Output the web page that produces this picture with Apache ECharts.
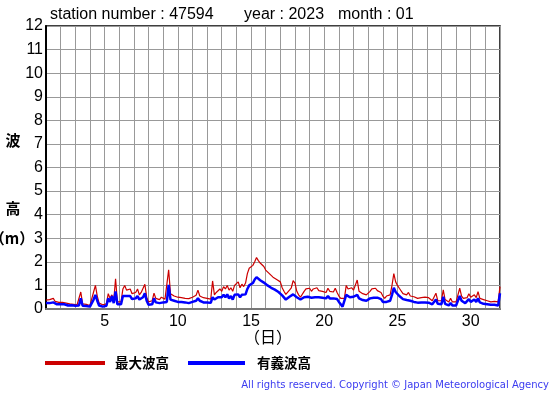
<!DOCTYPE html>
<html>
<head>
<meta charset="utf-8">
<script src="https://cdn.jsdelivr.net/npm/echarts@6/dist/echarts.min.js"></script>
<style>
html,body{margin:0;padding:0;background:#fff;}
#c{width:555px;height:395px;}
</style>
</head>
<body>
<div id="c"></div>
<script>
// Header texts
const stationText = 'station number : 47594';
const yearText = 'year : 2023';
const monthText = 'month : 01';
const seriesNames = ['最大波高', '有義波高'];
const yTicks = [0,1,2,3,4,5,6,7,8,9,10,11,12];
const xTickLabels = [5, 10, 15, 20, 25, 30];
const stepsPerDay = 8; // 3-hourly samples, starting at day 1 00h, ending at day 32 00h

// 最大波高 (max wave height, m), 8 values per day
const maxWave = [
  0.38,0.35,0.40,0.33,0.45,0.32,0.30,0.28, // 1
  0.30,0.28,0.30,0.25,0.24,0.22,0.26,0.20, // 2
  0.22,0.18,0.25,0.72,0.22,0.15,0.20,0.24, // 3
  0.15,0.12,0.72,1.00,0.55,0.25,0.20,0.18, // 4
  0.20,0.22,0.65,0.45,0.60,0.35,1.28,0.30, // 5
  0.25,0.30,0.85,1.00,0.80,0.75,0.85,0.65, // 6
  0.65,0.70,0.85,0.60,0.70,0.75,1.05,0.50, // 7
  0.30,0.22,0.35,0.67,0.45,0.48,0.40,0.50, // 8
  0.45,0.42,0.50,1.66,0.65,0.60,0.55,0.60, // 9
  0.50,0.45,0.48,0.42,0.45,0.52,0.44,0.47, // 10
  0.50,0.55,0.58,0.80,0.55,0.52,0.48,0.45, // 11
  0.45,0.48,0.42,1.19,0.60,0.70,0.75,0.85, // 12
  0.75,0.95,0.85,1.00,0.80,0.90,0.75,1.00, // 13
  0.95,1.15,0.90,1.05,0.95,1.10,1.50,1.73, // 14
  1.70,1.85,2.00,2.18,2.05,1.95,1.90,1.80, // 15
  1.65,1.60,1.50,1.45,1.35,1.30,1.25,1.20, // 16
  1.15,0.90,0.75,0.62,0.70,0.80,0.90,1.20, // 17
  1.10,0.75,0.60,0.50,0.55,0.75,0.85,0.80, // 18
  0.88,0.75,0.85,0.80,0.90,0.78,0.85,0.75, // 19
  0.80,0.70,0.88,0.75,0.68,0.72,0.88,0.70, // 20
  0.55,0.45,0.40,0.45,1.00,0.85,0.80,0.90, // 21
  0.80,0.85,1.23,0.75,0.70,0.65,0.70,0.60, // 22
  0.65,0.75,0.85,0.80,0.88,0.78,0.85,0.70, // 23
  0.55,0.45,0.55,0.50,0.60,1.00,1.50,1.15, // 24
  1.00,0.88,0.80,0.65,0.62,0.60,0.70,0.55, // 25
  0.50,0.52,0.48,0.45,0.50,0.48,0.45,0.50, // 26
  0.45,0.48,0.40,0.35,0.38,0.67,0.35,0.30, // 27
  0.35,0.81,0.40,0.35,0.30,0.45,0.30,0.28, // 28
  0.30,0.35,0.88,0.55,0.45,0.40,0.48,0.65, // 29
  0.50,0.55,0.60,0.48,0.73,0.45,0.50,0.40, // 30
  0.45,0.35,0.38,0.30,0.28,0.32,0.25,0.30, // 31
  0.95                                      // 32 00h
];

// 有義波高 (significant wave height, m), 8 values per day
const sigWave = [
  0.25,0.22,0.25,0.20,0.28,0.20,0.20,0.18, // 1
  0.20,0.18,0.20,0.16,0.15,0.14,0.16,0.12, // 2
  0.14,0.12,0.15,0.45,0.14,0.10,0.13,0.15, // 3
  0.10,0.08,0.40,0.60,0.35,0.15,0.12,0.10, // 4
  0.12,0.14,0.45,0.30,0.55,0.25,0.74,0.20, // 5
  0.15,0.20,0.55,0.62,0.55,0.50,0.55,0.42, // 6
  0.42,0.45,0.55,0.40,0.45,0.50,0.67,0.35, // 7
  0.18,0.12,0.20,0.45,0.28,0.30,0.25,0.30, // 8
  0.28,0.25,0.30,1.02,0.40,0.38,0.35,0.38, // 9
  0.30,0.28,0.30,0.25,0.28,0.30,0.25,0.28, // 10
  0.30,0.35,0.35,0.45,0.35,0.30,0.28,0.28, // 11
  0.28,0.30,0.26,0.50,0.40,0.45,0.50,0.55, // 12
  0.50,0.60,0.50,0.62,0.45,0.55,0.40,0.60, // 13
  0.55,0.62,0.50,0.60,0.52,0.62,0.85,1.00, // 14
  1.00,1.10,1.25,1.35,1.28,1.22,1.18,1.12, // 15
  1.05,1.00,0.95,0.90,0.85,0.82,0.78,0.72, // 16
  0.68,0.58,0.50,0.40,0.45,0.52,0.58,0.62, // 17
  0.60,0.50,0.42,0.40,0.42,0.50,0.55,0.52, // 18
  0.55,0.48,0.52,0.50,0.55,0.50,0.52,0.48, // 19
  0.50,0.45,0.55,0.45,0.42,0.45,0.52,0.42, // 20
  0.30,0.20,0.10,0.18,0.60,0.55,0.50,0.55, // 21
  0.52,0.55,0.60,0.45,0.40,0.38,0.42,0.35, // 22
  0.38,0.45,0.50,0.48,0.52,0.48,0.50,0.42, // 23
  0.30,0.22,0.30,0.28,0.35,0.60,0.90,0.72, // 24
  0.65,0.55,0.50,0.42,0.40,0.38,0.42,0.35, // 25
  0.32,0.30,0.28,0.27,0.30,0.28,0.26,0.28, // 26
  0.25,0.27,0.22,0.20,0.22,0.40,0.22,0.18, // 27
  0.20,0.52,0.22,0.20,0.15,0.25,0.15,0.14, // 28
  0.15,0.20,0.55,0.35,0.28,0.25,0.30,0.42, // 29
  0.30,0.35,0.40,0.30,0.45,0.28,0.30,0.22, // 30
  0.25,0.20,0.22,0.18,0.15,0.18,0.12,0.15, // 31
  0.67                                      // 32 00h
];

const toPairs = arr => arr.map((v, i) => [1 + i / stepsPerDay, v]);

const chart = echarts.init(document.getElementById('c'), null, {renderer: 'canvas'});
const FONT = '"Liberation Sans", Arial, sans-serif';
const CJK = '"Noto Sans CJK JP", sans-serif';

chart.setOption({
  animation: false,
  backgroundColor: '#fff',
  grid: {left: 46, right: 55, top: 26, bottom: 86, show: true, borderColor: '#000', borderWidth: 1.5, backgroundColor: 'transparent'},
  xAxis: {
    type: 'value', min: 1, max: 32, interval: 1,
    axisLine: {show: true, onZero: false, lineStyle: {color: '#777', width: 2}},
    axisTick: {show: false},
    splitLine: {show: true, lineStyle: {color: '#999', width: 1}},
    axisLabel: {
      fontFamily: FONT, fontSize: 16, color: '#000', margin: 5,
      formatter: v => xTickLabels.indexOf(v) >= 0 ? String(v) : ''
    }
  },
  yAxis: {
    type: 'value', min: yTicks[0], max: yTicks[yTicks.length - 1], interval: 1,
    axisLine: {show: true, lineStyle: {color: '#000', width: 2}},
    axisTick: {show: false},
    splitLine: {show: true, lineStyle: {color: '#999', width: 1}},
    axisLabel: {fontFamily: FONT, fontSize: 16, color: '#000', margin: 3}
  },
  series: [
    {name: seriesNames[0], type: 'line', data: toPairs(maxWave), showSymbol: false,
     lineStyle: {color: '#cc0000', width: 1.2}, itemStyle: {color: '#cc0000'}, z: 3},
    {name: seriesNames[1], type: 'line', data: toPairs(sigWave), showSymbol: false,
     lineStyle: {color: '#0000ff', width: 2.5}, itemStyle: {color: '#0000ff'}, z: 4}
  ],
  graphic: [
    {type: 'text', left: 50, top: 7, style: {text: stationText, font: '16px ' + FONT, fill: '#000'}},
    {type: 'text', left: 244, top: 7, style: {text: yearText, font: '16px ' + FONT, fill: '#000'}},
    {type: 'text', left: 338, top: 7, style: {text: monthText, font: '16px ' + FONT, fill: '#000'}},
    {type: 'text', x: 13, y: 140, style: {text: '波', font: 'bold 15px ' + CJK, fill: '#000', align: 'center', verticalAlign: 'middle'}},
    {type: 'text', x: 13, y: 208, style: {text: '高', font: 'bold 15px ' + CJK, fill: '#000', align: 'center', verticalAlign: 'middle'}},
    {type: 'text', x: 12, y: 238, style: {text: '（m）', font: 'bold 15px ' + CJK, fill: '#000', align: 'center', verticalAlign: 'middle'}},
    {type: 'text', x: 268, y: 337, style: {text: '（日）', font: '16px ' + CJK, fill: '#000', align: 'center', verticalAlign: 'middle'}},
    {type: 'line', shape: {x1: 45, y1: 363, x2: 105, y2: 363}, style: {stroke: '#cc0000', lineWidth: 4}},
    {type: 'text', x: 115, y: 363, style: {text: seriesNames[0], font: 'bold 13.5px ' + CJK, fill: '#000', verticalAlign: 'middle'}},
    {type: 'line', shape: {x1: 188, y1: 363, x2: 245, y2: 363}, style: {stroke: '#0000ff', lineWidth: 4}},
    {type: 'text', x: 257, y: 363, style: {text: seriesNames[1], font: 'bold 13.5px ' + CJK, fill: '#000', verticalAlign: 'middle'}},
    {type: 'text', x: 549, y: 385, style: {text: 'All rights reserved. Copyright © Japan Meteorological Agency', font: '10px "DejaVu Sans", sans-serif', fill: '#3b3bf0', align: 'right', verticalAlign: 'middle'}}
  ]
});
</script>
</body>
</html>
